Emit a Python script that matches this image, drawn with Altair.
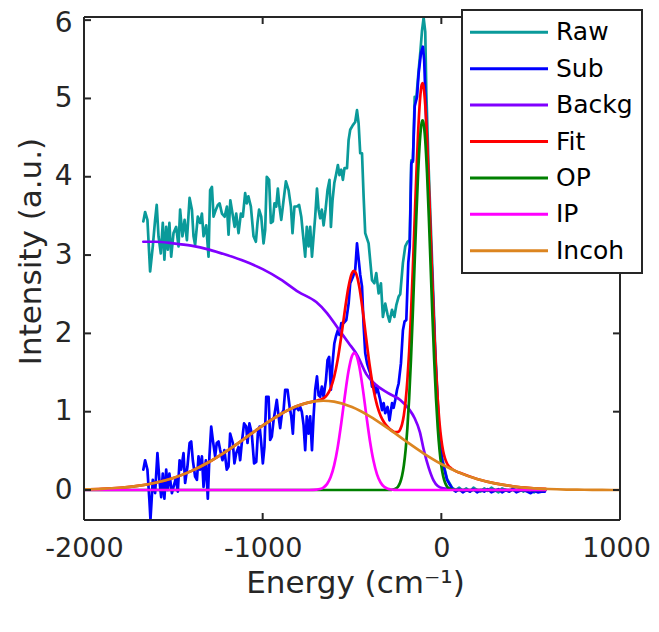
import altair as alt
import pandas as pd

# ---------------- data ----------------
raw_x = [-1668, -1658, -1645, -1630, -1615, -1602, -1593, -1583, -1570, -1559, -1550, -1540, -1531, -1522,
         -1512, -1499, -1484, -1471, -1462, -1449, -1437, -1424, -1409, -1396, -1387, -1378, -1363, -1350,
         -1340, -1331, -1316, -1303, -1294, -1284, -1275, -1262, -1251, -1241, -1228, -1213, -1200, -1191,
         -1181, -1166, -1157, -1148, -1135, -1122, -1111, -1098, -1089, -1080, -1066, -1051, -1038, -1029,
         -1020, -1008, -995, -986, -977, -964, -954, -943, -934, -924, -915, -906, -896, -883, -870, -855,
         -842, -833, -822, -809, -796, -784, -775, -762, -753, -743, -734, -724, -715, -706, -696, -687,
         -678, -669, -659, -648, -637, -626, -618, -609, -599, -588, -579, -570, -560, -551, -542, -528,
         -519, -510, -495, -482, -472, -463, -454, -444, -435, -426, -407, -388, -375, -364, -351, -338,
         -327, -314, -301, -290, -276, -263, -252, -239, -230, -215, -202, -189, -177, -168, -159, -149,
         -140, -127, -118, -108, -99, -90, -84, -71, -52, -34, -15, 4, 32, 60, 80, 100, 120, 140, 160, 180,
         200, 220, 240, 260, 280, 300, 320, 340, 360, 380, 400, 420, 440, 460, 480, 500, 520, 540, 560, 580]
raw_y = [3.43, 3.55, 3.45, 2.79, 3.11, 3.45, 3.64, 3.24, 3.02, 3.41, 2.94, 3.36, 3.07, 3.41,
         2.98, 3.28, 3.36, 3.11, 3.58, 3.24, 3.45, 3.19, 3.73, 3.58, 3.24, 3.13, 3.49, 3.41,
         3.53, 3.24, 3.38, 2.98, 3.83, 3.87, 3.49, 3.58, 3.64, 3.66, 3.53, 3.49, 3.62, 3.26,
         3.70, 3.49, 3.36, 3.53, 3.28, 3.53, 3.49, 3.79, 3.66, 3.75, 3.62, 3.24, 3.17, 3.41,
         3.58, 3.49, 3.15, 3.32, 4.00, 3.96, 3.41, 3.43, 3.66, 3.62, 3.85, 3.62, 3.45, 3.70, 3.94, 3.83,
         3.62, 3.28, 3.62, 3.62, 3.64, 3.49, 3.28, 2.98, 3.36, 3.11, 3.36, 2.98, 3.24, 3.49, 3.85, 3.58,
         3.47, 3.58, 3.38, 3.58, 3.83, 3.96, 3.36, 3.70, 3.92, 4.04, 4.15, 4.02, 4.09, 3.96, 4.11, 4.11,
         4.47, 4.60, 4.66, 4.70, 4.85, 4.68, 4.30, 4.30, 3.75, 3.28, 3.15, 2.68, 2.64, 2.77, 2.51, 2.64,
         2.21, 2.38, 2.24, 2.15, 2.30, 2.21, 2.36, 2.47, 2.50, 2.90, 3.11, 3.17, 3.19, 4.21, 4.19, 5.02,
         5.00, 5.36, 5.58, 5.87, 6.03, 5.85, 5.08, 4.11, 2.94, 1.79, 0.89, 0.41, 0.14, 0.03, 0.00, 0.03,
         -0.01, 0.02, -0.02, 0.03, 0.00, -0.02, 0.02, -0.01, 0.03, 0.00, -0.03, 0.02, 0.00, -0.02, 0.02,
         -0.01, 0.01, -0.02, 0.02, 0.00, -0.03, 0.01, -0.01, 0.00]

sub_x = [-1668, -1658, -1645, -1634, -1628, -1615, -1602, -1589, -1578, -1568, -1559, -1550, -1540, -1531,
         -1522, -1508, -1499, -1486, -1475, -1465, -1456, -1443, -1434, -1421, -1409, -1400, -1391, -1378,
         -1368, -1359, -1350, -1340, -1331, -1318, -1307, -1298, -1288, -1279, -1266, -1257, -1247, -1238,
         -1225, -1214, -1201, -1191, -1182, -1167, -1158, -1148, -1135, -1126, -1117, -1104, -1092, -1085,
         -1074, -1061, -1048, -1036, -1027, -1017, -1008, -999, -990, -980, -967, -958, -949, -939, -930,
         -921, -911, -902, -892, -883, -874, -861, -849, -840, -831, -824, -812, -799, -790, -781, -771,
         -762, -753, -743, -734, -724, -715, -706, -696, -687, -678, -669, -659, -646, -637, -628, -618,
         -609, -599, -590, -579, -570, -560, -547, -532, -519, -510, -495, -482, -472, -463, -454, -444,
         -435, -426, -416, -407, -398, -388, -379, -370, -360, -342, -332, -323, -314, -301, -290, -276,
         -267, -258, -248, -239, -226, -215, -206, -196, -185, -177, -168, -159, -149, -136, -127, -114,
         -103, -96, -84, -71, -52, -34, -15, 4, 32, 60, 80, 100, 120, 140, 160, 180, 200, 220, 240, 260,
         280, 300, 320, 340, 360, 380, 400, 420, 440, 460, 480, 500, 520, 540, 560, 580]
sub_y = [0.26, 0.38, 0.26, -0.13, -0.38, 0.13, -0.04, 0.47, 0.13, -0.09, 0.21, -0.11, 0.26, 0.00,
         0.21, -0.04, 0.04, 0.15, -0.02, 0.38, 0.26, 0.47, 0.09, 0.30, 0.60, 0.62, 0.38, 0.17,
         0.13, 0.43, 0.26, 0.43, 0.04, 0.38, -0.11, 0.43, 0.81, 0.64, 0.43, 0.60, 0.62, 0.51,
         0.38, 0.51, 0.26, 0.30, 0.72, 0.60, 0.34, 0.47, 0.55, 0.38, 0.60, 0.85, 0.81, 0.60,
         0.85, 0.72, 0.34, 0.36, 0.72, 0.81, 0.60, 0.34, 0.55, 1.19, 1.19, 0.64, 0.68, 0.89, 1.02,
         1.15, 0.94, 0.79, 0.98, 1.02, 1.28, 1.28, 1.06, 0.94, 0.72, 1.02, 1.06, 1.02, 1.06, 1.00, 0.83,
         0.51, 0.94, 0.72, 0.94, 0.51, 0.94, 1.28, 1.45, 1.21, 1.19, 1.32, 1.19, 1.40, 1.66, 1.70, 1.28,
         1.62, 1.87, 1.96, 2.04, 1.98, 2.13, 2.13, 2.17, 2.38, 2.64, 2.72, 2.81, 3.15, 2.95, 2.75, 2.60,
         2.10, 1.75, 1.62, 1.55, 1.49, 1.32, 1.36, 1.23, 1.32, 1.15, 1.02, 1.11, 0.98, 1.06, 0.89, 1.11,
         1.05, 1.15, 1.28, 1.36, 1.62, 2.04, 2.15, 2.17, 2.90, 3.10, 4.17, 4.21, 4.90, 5.02, 5.32, 5.58,
         5.66, 5.49, 4.68, 3.83, 2.77, 1.70, 0.85, 0.38, 0.13, 0.02, -0.02, 0.01, -0.03, 0.00, -0.02, 0.01,
         -0.03, 0.00, -0.02, 0.01, -0.03, -0.01, 0.01, -0.03, 0.00, -0.02, 0.01, -0.03, -0.01, 0.00, -0.02,
         -0.04, -0.01, -0.03, -0.02, -0.02]

backg_x = [-1668, -1600, -1500, -1400, -1300, -1200, -1100, -1000, -900, -800, -700, -640, -580, -520,
           -470, -420, -370, -300, -230, -180, -150, -120, -99, -70, -43, -20, 10, 50, 100, 583]
backg_y = [3.17, 3.17, 3.15, 3.12, 3.07, 3.00, 2.92, 2.82, 2.69, 2.53, 2.40, 2.26, 2.07, 1.88,
           1.72, 1.48, 1.35, 1.24, 1.15, 1.03, 0.92, 0.74, 0.52, 0.28, 0.12, 0.05, 0.02, 0.01, 0.00, 0.00]

fit_x = [-2000, -1900, -1800, -1700, -1600, -1500, -1400, -1300, -1200, -1100, -1000, -900, -800,
         -720, -700, -680, -660, -640, -620, -600, -580, -560, -540, -520, -500, -490, -480, -460, -440,
         -420, -400, -380, -360, -340, -320, -300, -280, -260, -240, -230, -220, -210, -200, -190, -180,
         -170, -160, -150, -140, -130, -120, -110, -105, -100, -90, -80, -70, -60, -50, -40, -30, -20,
         -10, 0, 10, 20, 30, 40, 50, 60, 80, 100, 200, 300, 400, 500, 583]
fit_y = [0.007, 0.015, 0.029, 0.053, 0.093, 0.154, 0.241, 0.357, 0.499, 0.659, 0.822, 0.968, 1.078,
         1.129, 1.139, 1.151, 1.171, 1.214, 1.297, 1.443, 1.667, 1.963, 2.294, 2.590, 2.771, 2.799, 2.778,
         2.605, 2.295, 1.925, 1.574, 1.289, 1.083, 0.949, 0.863, 0.806, 0.765, 0.739, 0.743, 0.775, 0.839,
         0.952, 1.134, 1.403, 1.770, 2.240, 2.797, 3.408, 4.018, 4.559, 4.964, 5.175, 5.196, 5.160, 4.919,
         4.484, 3.913, 3.274, 2.633, 2.046, 1.547, 1.150, 0.852, 0.642, 0.499, 0.407, 0.348, 0.310, 0.286,
         0.268, 0.241, 0.222, 0.140, 0.084, 0.047, 0.025, 0.014]

op_x = [-2000, -300, -280, -270, -260, -250, -240, -230, -220, -210, -200, -190, -180, -170, -160, -150,
        -140, -130, -120, -110, -105, -100, -90, -80, -70, -60, -50, -40, -30, -20, -10, 0, 10, 20, 30,
        40, 50, 60, 70, 80, 583]
op_y = [0, 0, 0.002, 0.006, 0.013, 0.026, 0.052, 0.100, 0.180, 0.310, 0.508, 0.793, 1.177, 1.663,
        2.236, 2.863, 3.488, 4.045, 4.465, 4.691, 4.720, 4.691, 4.465, 4.045, 3.488, 2.863, 2.236, 1.663,
        1.177, 0.793, 0.508, 0.310, 0.180, 0.100, 0.052, 0.026, 0.013, 0.006, 0.002, 0, 0]

ip_x = [-2000, -740, -720, -700, -680, -660, -640, -620, -600, -580, -560, -540, -520, -500, -490, -480,
        -460, -440, -420, -400, -380, -360, -340, -320, -300, -280, -260, -240, 583]
ip_y = [0, 0, 0.001, 0.004, 0.012, 0.031, 0.075, 0.162, 0.315, 0.547, 0.855, 1.200, 1.512, 1.711, 1.749,
        1.738, 1.587, 1.301, 0.957, 0.633, 0.376, 0.200, 0.096, 0.041, 0.016, 0.006, 0.002, 0, 0]

incoh_x = [-2000, -1900, -1800, -1700, -1600, -1500, -1400, -1300, -1200, -1100, -1000, -900, -800, -700,
           -660, -600, -500, -400, -300, -200, -100, 0, 100, 200, 300, 400, 500, 600, 700, 800, 900, 1000]
incoh_y = [0.007, 0.015, 0.029, 0.053, 0.093, 0.154, 0.241, 0.357, 0.499, 0.659, 0.822, 0.968, 1.078,
           1.135, 1.140, 1.128, 1.060, 0.941, 0.790, 0.626, 0.469, 0.332, 0.222, 0.140, 0.084, 0.047, 0.025,
           0.013, 0.006, 0.003, 0.001, 0.0]

series_names = ["Raw", "Sub", "Backg", "Fit", "OP", "IP", "Incoh"]
series_colors = ["#0a9a9a", "#0000ff", "#8000ff", "#ff0000", "#008000", "#ff00ff", "#dc8520"]
series_interp = ["linear", "linear", "monotone", "monotone", "monotone", "monotone", "monotone"]
x_ticks = [-2000, -1000, 0, 1000]
y_ticks = [0, 1, 2, 3, 4, 5, 6]
x_domain = [-2000, 1000]
y_domain = [-0.383, 6.04]

# ---------------- chart ----------------
W, H = 536, 503
AX = "#262626"
FONT = "DejaVu Sans"

xscale = alt.Scale(domain=x_domain, nice=False, zero=False)
yscale = alt.Scale(domain=y_domain, nice=False, zero=False)

xaxis = alt.Axis(values=x_ticks, labelExpr="'' + datum.value", title="Energy (cm⁻¹)",
                 domain=False, ticks=False, tickSize=0, grid=False, labelFlush=False, labelOverlap=False,
                 labelFont=FONT, labelFontSize=27, labelColor=AX, labelPadding=28, labelBaseline="middle",
                 labelOffset={"condition": {"test": "datum.value == 1000", "value": -4}, "value": 0},
                 titleFont=FONT, titleFontSize=31, titleFontWeight="normal", titleColor=AX,
                 titleX=271, titleY=63, titleBaseline="middle", titleAlign="center")
yaxis = alt.Axis(values=y_ticks, labelExpr="'' + datum.value", title="Intensity (a.u.)",
                 domain=False, ticks=False, tickSize=0, grid=False, labelOverlap=False,
                 labelFont=FONT, labelFontSize=28, labelColor=AX, labelPadding=12,
                 labelOffset={"condition": {"test": "datum.value == 6", "value": 3}, "value": 0},
                 titleFont=FONT, titleFontSize=31, titleFontWeight="normal", titleColor=AX,
                 titleX=-53, titleY=234, titleBaseline="middle", titleAngle=270, titleAlign="center")

all_x = [raw_x, sub_x, backg_x, fit_x, op_x, ip_x, incoh_x]
all_y = [raw_y, sub_y, backg_y, fit_y, op_y, ip_y, incoh_y]

layers = []
for name, xs, ys, col, interp in zip(series_names, all_x, all_y, series_colors, series_interp):
    df = pd.DataFrame({"x": xs, "y": ys, "series": name})
    layers.append(
        alt.Chart(df).mark_line(color=col, strokeWidth=2.7, interpolate=interp,
                                strokeJoin="round", strokeCap="round", clip=True).encode(
            x=alt.X("x:Q", scale=xscale, axis=xaxis),
            y=alt.Y("y:Q", scale=yscale, axis=yaxis),
        )
    )

one = pd.DataFrame({"a": [0]})
frame_style = dict(color=AX, strokeWidth=2)
layers += [
    alt.Chart(one).mark_rule(**frame_style).encode(x=alt.value(0), x2=alt.value(W), y=alt.value(0)),
    alt.Chart(one).mark_rule(**frame_style).encode(x=alt.value(0), x2=alt.value(W), y=alt.value(H)),
    alt.Chart(one).mark_rule(**frame_style).encode(y=alt.value(0), y2=alt.value(H), x=alt.value(0)),
    alt.Chart(one).mark_rule(**frame_style).encode(y=alt.value(0), y2=alt.value(H), x=alt.value(W)),
]

xt = pd.DataFrame({"x": x_ticks})
yt = pd.DataFrame({"y": y_ticks})
TL = 7
layers += [
    alt.Chart(xt).mark_rule(**frame_style).encode(x=alt.X("x:Q", scale=xscale, axis=xaxis),
                                                  y=alt.value(H), y2=alt.value(H - TL)),
    alt.Chart(xt).mark_rule(**frame_style).encode(x=alt.X("x:Q", scale=xscale, axis=xaxis),
                                                  y=alt.value(0), y2=alt.value(TL)),
    alt.Chart(yt).mark_rule(**frame_style).encode(y=alt.Y("y:Q", scale=yscale, axis=yaxis),
                                                  x=alt.value(0), x2=alt.value(TL)),
    alt.Chart(yt).mark_rule(**frame_style).encode(y=alt.Y("y:Q", scale=yscale, axis=yaxis),
                                                  x=alt.value(W), x2=alt.value(W - TL)),
]

# legend box (top-right, overlapping the frame)
LX0, LX1, LY0, LY1 = 378, 558, -7, 256
layers.append(
    alt.Chart(one).mark_rect(fill="white", stroke=AX, strokeWidth=2).encode(
        x=alt.value(LX0), x2=alt.value(LX1), y=alt.value(LY0), y2=alt.value(LY1))
)
for i, (name, col) in enumerate(zip(series_names, series_colors)):
    py = 15.3 + i * 36.4
    layers.append(
        alt.Chart(one).mark_rule(color=col, strokeWidth=3).encode(
            x=alt.value(386), x2=alt.value(464), y=alt.value(py))
    )
    layers.append(
        alt.Chart(one).mark_text(text=name, align="left", baseline="middle", font=FONT,
                                 fontSize=25, color="black").encode(
            x=alt.value(472), y=alt.value(py))
    )

chart = alt.layer(*layers).properties(
    width=W, height=H,
    padding={"left": 76, "top": 9, "right": 31, "bottom": 86},
    autosize=alt.AutoSizeParams(type="none"),
    background="white",
).configure_view(stroke=None)

chart.save("out.html", embed_options={"renderer": "svg", "actions": False})
